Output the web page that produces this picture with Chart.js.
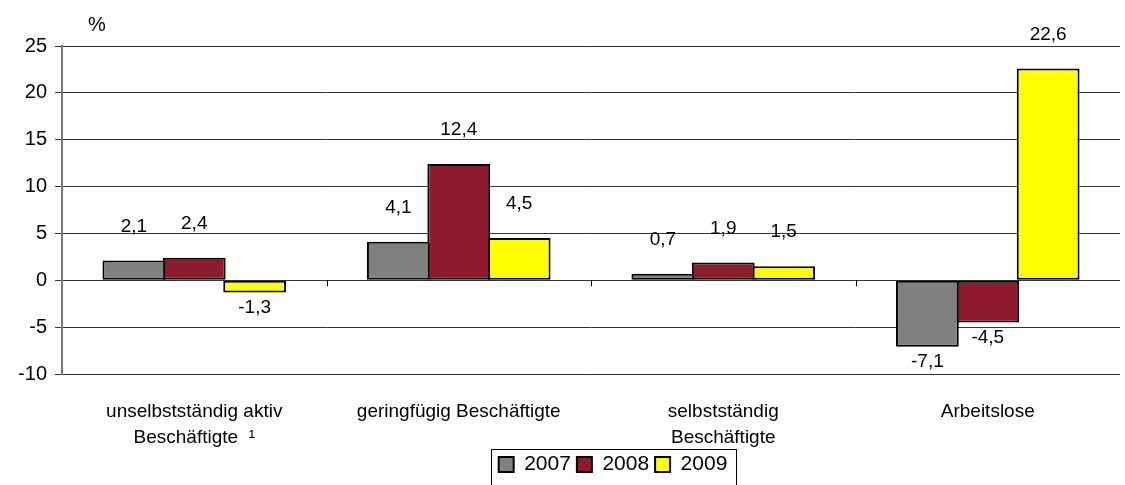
<!DOCTYPE html>
<html>
<head>
<meta charset="utf-8">
<script src="https://cdn.jsdelivr.net/npm/chart.js@4.4.1/dist/chart.umd.min.js"></script>
<style>
  html, body { margin: 0; padding: 0; background: #fff; }
  #wrap { width: 1125px; height: 485px; }
</style>
</head>
<body>
<div id="wrap"><canvas id="chart" width="1125" height="485"></canvas></div>
<script>
// Kategorien und Werte (Veränderung gegenüber Vorjahr in %)
const categories = [
    ['unselbstständig aktiv', 'Beschäftigte  \u00B9'],
    'geringfügig Beschäftigte',
    ['selbstständig', 'Beschäftigte'],
    'Arbeitslose'
];
const years = ['2007', '2008', '2009'];
const values2007 = [2.1, 4.1, 0.7, -7.1];
const values2008 = [2.4, 12.4, 1.9, -4.5];
const values2009 = [-1.3, 4.5, 1.5, 22.6];
const yTicks = [-10, -5, 0, 5, 10, 15, 20, 25];

const colors = ['#808080', '#8E1C2E', '#FFFF00'];
const FONT = 'Arial, "Liberation Sans", sans-serif';

// Datenbeschriftungen über / unter den Balken
const labelPlugin = {
    id: 'barLabels',
    afterDatasetsDraw(chart) {
        const ctx = chart.ctx;
        ctx.save();
        ctx.font = '19px ' + FONT;
        ctx.fillStyle = '#000';
        ctx.textAlign = 'center';
        ctx.textBaseline = 'middle';
        chart.data.datasets.forEach((ds, i) => {
            chart.getDatasetMeta(i).data.forEach((bar, j) => {
                const v = ds.data[j];
                const txt = v.toFixed(1).replace('.', ',');
                const y = v >= 0 ? bar.y - 34 : bar.y + 15;
                ctx.fillText(txt, bar.x, y);
            });
        });
        ctx.restore();
    }
};

// "%" über der Y-Achse, Rahmen um die Legende, Teilstriche an der Nulllinie
const extrasPlugin = {
    id: 'extras',
    afterLayout(chart) {
        // Legende etwas nach rechts wie im Original
        chart.legend.left += 53;
        chart.legend.right += 53;
    },
    afterDraw(chart) {
        const ctx = chart.ctx;
        const area = chart.chartArea;
        const xs = chart.scales.x;
        const ys = chart.scales.y;
        ctx.save();
        ctx.font = '20px ' + FONT;
        ctx.fillStyle = '#000';
        ctx.textAlign = 'center';
        ctx.textBaseline = 'middle';
        ctx.fillText('%', area.left + 35, area.top - 21);

        // Teilstriche an der Nulllinie
        const y0 = ys.getPixelForValue(0);
        ctx.strokeStyle = '#000';
        ctx.lineWidth = 1;
        for (let i = 0; i < categories.length - 1; i++) {
            const xb = Math.round((xs.getPixelForValue(i) + xs.getPixelForValue(i + 1)) / 2) + 0.5;
            ctx.beginPath();
            ctx.moveTo(xb, y0);
            ctx.lineTo(xb, y0 + 6);
            ctx.stroke();
        }

        // Legendenrahmen
        const lg = chart.legend;
        if (lg && lg.legendHitBoxes && lg.legendHitBoxes.length) {
            const boxes = lg.legendHitBoxes;
            const l = boxes[0].left - 8;
            const r = boxes[boxes.length - 1].left + boxes[boxes.length - 1].width + 8;
            const t = boxes[0].top - 5;
            const b = boxes[0].top + boxes[0].height + 10;
            ctx.strokeStyle = '#000';
            ctx.strokeRect(Math.round(l) + 0.5, Math.round(t) + 0.5, Math.round(r - l), Math.round(b - t));
        }
        ctx.restore();
    }
};

const ctx = document.getElementById('chart').getContext('2d');
new Chart(ctx, {
    type: 'bar',
    data: {
        labels: categories,
        datasets: [values2007, values2008, values2009].map((vals, i) => ({
            label: years[i],
            data: vals,
            backgroundColor: colors[i],
            borderColor: '#000',
            borderWidth: 2,
            borderSkipped: false,
            inflateAmount: 0,
            categoryPercentage: 0.685,
            barPercentage: 1.04
        }))
    },
    options: {
        responsive: false,
        animation: false,
        devicePixelRatio: 1,
        layout: { padding: { top: 46, right: 5, left: 0, bottom: 0 } },
        plugins: {
            legend: {
                position: 'bottom',
                labels: {
                    font: { family: FONT, size: 21 },
                    color: '#000',
                    boxWidth: 15,
                    boxHeight: 15,
                    padding: 6,
                    useBorderRadius: false
                }
            },
            tooltip: { enabled: false }
        },
        scales: {
            x: {
                grid: { display: false },
                border: { display: false },
                ticks: {
                    font: { family: FONT, size: 19, lineHeight: 1.35 },
                    color: '#000',
                    maxRotation: 0,
                    padding: 17
                },
                afterFit(scale) { scale.height = 74; }
            },
            y: {
                min: -10,
                max: 25,
                afterBuildTicks(scale) { scale.ticks = yTicks.map(v => ({ value: v })); },
                grid: { color: '#333', lineWidth: 1, tickLength: 7 },
                border: { color: '#777', width: 2 },
                ticks: {
                    font: { family: FONT, size: 20 },
                    color: '#000',
                    padding: 8
                },
                afterFit(scale) { scale.width = 62; }
            }
        }
    },
    plugins: [labelPlugin, extrasPlugin]
});
</script>
</body>
</html>
